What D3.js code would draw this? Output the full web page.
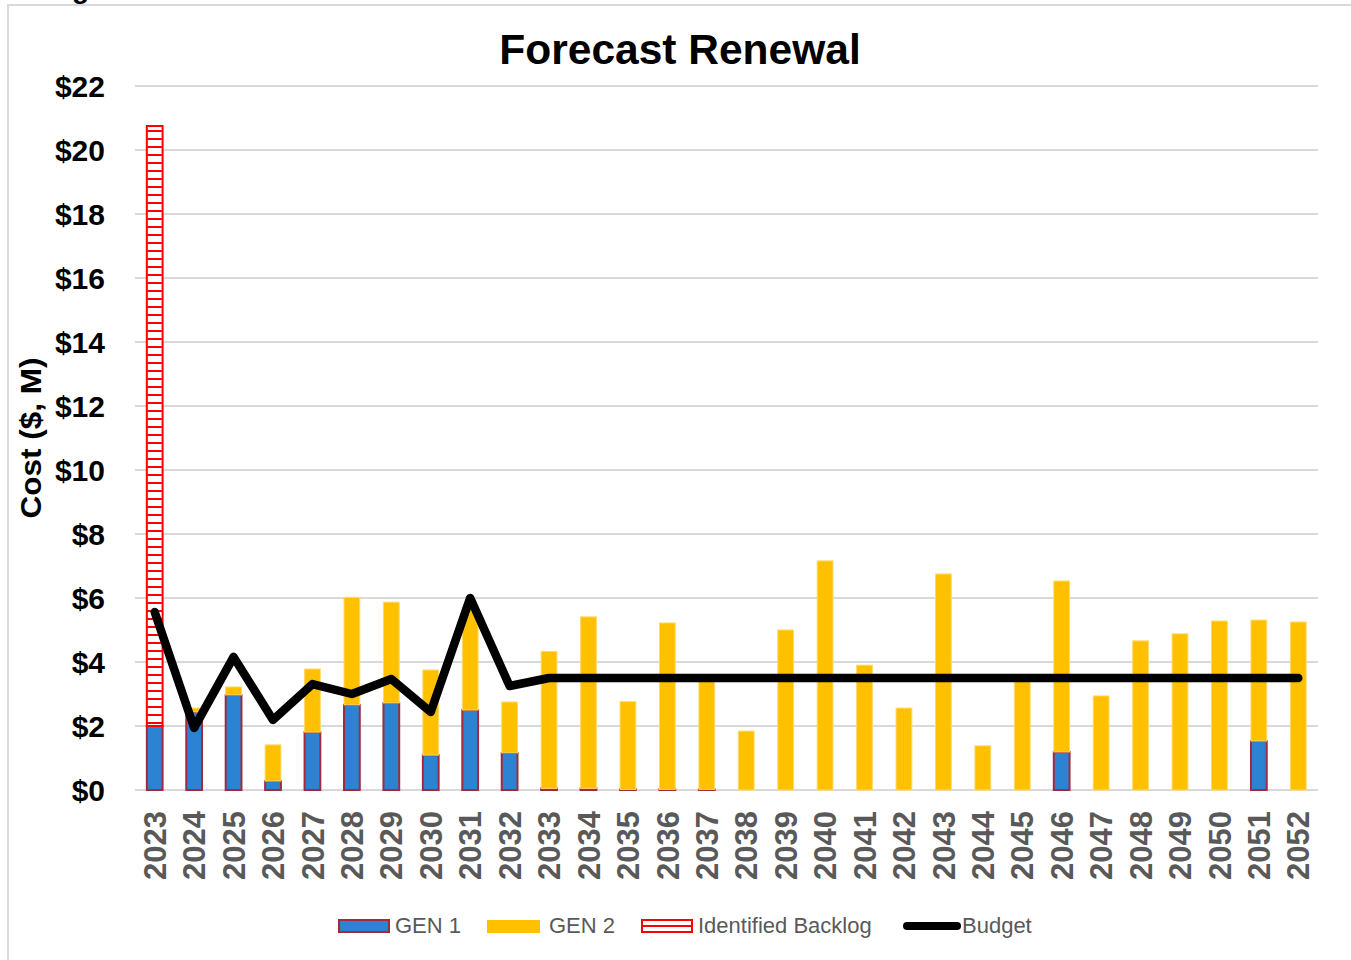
<!DOCTYPE html>
<html>
<head>
<meta charset="utf-8">
<script src="https://cdn.jsdelivr.net/npm/d3@7"></script>
<style>
body{margin:0;background:#fff;}
svg{display:block;font-family:"Liberation Sans",Arial,sans-serif;}
</style>
</head>
<body>
<svg id="chart" width="1351" height="960"></svg>
<script>
// data ($ M)
var years=["2023","2024","2025","2026","2027","2028","2029","2030","2031","2032",
	"2033","2034","2035","2036","2037","2038","2039","2040","2041","2042",
	"2043","2044","2045","2046","2047","2048","2049","2050","2051","2052"];
var gen1=[2.0,2.44,2.97,0.28,1.81,2.66,2.72,1.09,2.5,1.16,
	0.05,0.05,0.02,0.02,0.02,0,0,0,0,0,
	0,0,0,1.19,0,0,0,0,1.53,0];
var gen2=[0,0.12,0.25,1.13,1.97,3.36,3.15,2.66,3.2,1.59,
	4.28,5.36,2.74,5.2,3.48,1.84,5.0,7.16,3.9,2.56,
	6.75,1.38,3.48,5.34,2.94,4.66,4.88,5.28,3.78,5.25];
var backlog=[18.75,0,0,0,0,0,0,0,0,0,0,0,0,0,0,0,0,0,0,0,0,0,0,0,0,0,0,0,0,0];
var budget=[5.56,1.94,4.16,2.19,3.31,3.0,3.47,2.44,6.0,3.25,
	3.5,3.5,3.5,3.5,3.5,3.5,3.5,3.5,3.5,3.5,
	3.5,3.5,3.5,3.5,3.5,3.5,3.5,3.5,3.5,3.5];
var yTicks=[0,2,4,6,8,10,12,14,16,18,20,22];

var svg=d3.select("#chart");
var blue="#2b83d1",gold="#ffc000",edge="#a02b3e",red="#ff0000";

var defs=svg.append("defs");
var pat=defs.append("pattern").attr("id","hatch").attr("patternUnits","userSpaceOnUse")
	.attr("width",8).attr("height",8).attr("y",2);
pat.append("rect").attr("width",8).attr("height",8).attr("fill","#fff");
pat.append("rect").attr("width",8).attr("height",2).attr("fill",red);

// outer frame
svg.append("path").attr("d","M8,965V5H1360").attr("fill","none").attr("stroke","#d9d9d9").attr("stroke-width",2);
svg.append("text").attr("x",72).attr("y",-2).attr("font-size",28).attr("font-weight","bold").text("g");

var x=d3.scaleBand().domain(years).range([135,1318]).paddingInner(0.6).paddingOuter(0.3);
var y=d3.scaleLinear().domain([0,22]).range([790,86]);

// grid
svg.append("g").selectAll("line").data(yTicks).enter().append("line")
	.attr("x1",135).attr("x2",1318)
	.attr("y1",d=>y(d)).attr("y2",d=>y(d))
	.attr("stroke","#d9d9d9").attr("stroke-width",2);

// y axis labels
var yAxis=svg.append("g").attr("transform","translate(105,0)")
	.call(d3.axisLeft(y).tickValues(yTicks).tickSize(0).tickPadding(0).tickFormat(d=>"$"+d));
yAxis.select(".domain").remove();
yAxis.selectAll("text").attr("font-size",30).attr("font-weight","bold").attr("fill","#000")
	.attr("font-family","Liberation Sans, Arial, sans-serif").attr("dy","0.36em");

// x axis labels
var xAxis=svg.append("g").attr("transform","translate(0,790)")
	.call(d3.axisBottom(x).tickSize(0).tickPadding(0));
xAxis.select(".domain").remove();
xAxis.selectAll("text").attr("font-size",31).attr("font-weight","bold").attr("fill","#595959")
	.attr("font-family","Liberation Sans, Arial, sans-serif")
	.attr("transform","rotate(-90)").attr("text-anchor","end")
	.attr("x",-21).attr("y",0).attr("dy","0.36em");

// stacked bars
var rows=years.map((yr,i)=>({year:yr,gen1:gen1[i],gen2:gen2[i],backlog:backlog[i]}));
var series=d3.stack().keys(["gen1","gen2","backlog"])(rows);
var styles={
	gen1:{fill:blue,stroke:edge,sw:2},
	gen2:{fill:gold,stroke:"#ffd966",sw:1},
	backlog:{fill:"url(#hatch)",stroke:red,sw:2}
};
svg.append("g").selectAll("g").data(series).enter().append("g")
	.each(function(s){
		var st=styles[s.key];
		d3.select(this).selectAll("rect").data(s.filter(d=>d[1]-d[0]>0)).enter().append("rect")
			.attr("x",d=>x(d.data.year))
			.attr("width",x.bandwidth())
			.attr("y",d=>y(d[1]))
			.attr("height",d=>y(d[0])-y(d[1]))
			.attr("fill",st.fill).attr("stroke",st.stroke).attr("stroke-width",st.sw);
	});

// budget line
var line=d3.line().x((d,i)=>x(years[i])+x.bandwidth()/2).y(d=>y(d));
svg.append("path").datum(budget).attr("d",line)
	.attr("fill","none").attr("stroke","#000").attr("stroke-width",8.5)
	.attr("stroke-linejoin","round").attr("stroke-linecap","round");

// title
svg.append("text").attr("x",680).attr("y",64).attr("text-anchor","middle")
	.attr("font-size",42.5).attr("font-weight","bold").text("Forecast Renewal");

// y axis title
svg.append("text").attr("transform","translate(41,438) rotate(-90)").attr("text-anchor","middle")
	.attr("font-size",29).attr("font-weight","bold")
	.attr("textLength",161).attr("lengthAdjust","spacingAndGlyphs").text("Cost ($, M)");

// legend
var lg=svg.append("g").attr("font-size",22).attr("fill","#595959");
lg.append("rect").attr("x",339).attr("y",920).attr("width",50).attr("height",12)
	.attr("fill",blue).attr("stroke",edge).attr("stroke-width",2);
lg.append("text").attr("x",395).attr("y",933).text("GEN 1");
lg.append("rect").attr("x",487).attr("y",920).attr("width",53).attr("height",13).attr("fill",gold);
lg.append("text").attr("x",549).attr("y",933).text("GEN 2");
lg.append("rect").attr("x",642).attr("y",920).attr("width",50).attr("height",12)
	.attr("fill","#fff").attr("stroke",red).attr("stroke-width",2);
lg.append("line").attr("x1",642).attr("x2",692).attr("y1",926).attr("y2",926).attr("stroke",red).attr("stroke-width",2);
lg.append("text").attr("x",698).attr("y",933).text("Identified Backlog");
lg.append("line").attr("x1",907).attr("x2",957).attr("y1",926).attr("y2",926)
	.attr("stroke","#000").attr("stroke-width",8).attr("stroke-linecap","round");
lg.append("text").attr("x",962).attr("y",933).text("Budget");
</script>
</body>
</html>
